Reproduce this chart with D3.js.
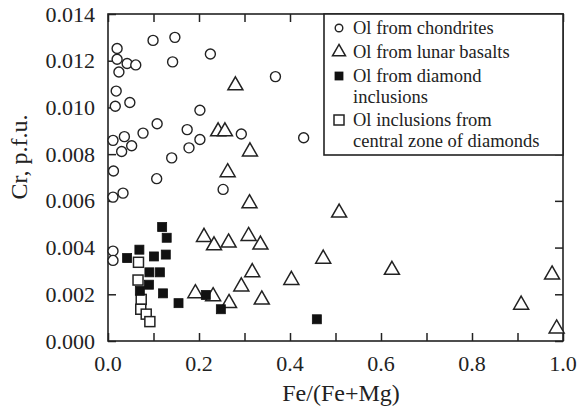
<!DOCTYPE html>
<html>
<head>
<meta charset="utf-8">
<script src="https://cdn.jsdelivr.net/npm/d3@7"></script>
<style>
  html, body { margin: 0; padding: 0; background: #fff; }
  svg { display: block; }
  text { font-family: "Liberation Serif", "Times New Roman", serif; fill: #222; }
</style>
</head>
<body>
<svg id="chart" width="578" height="408"></svg>
<script>
// Olivine: Cr (p.f.u.) versus Fe/(Fe+Mg)
const chondrites = [
  [0.020, 0.01252], [0.020, 0.01206], [0.042, 0.01188], [0.061, 0.01182],
  [0.024, 0.01152], [0.099, 0.01287], [0.147, 0.01300], [0.142, 0.01195],
  [0.225, 0.01229], [0.368, 0.01132], [0.018, 0.01070], [0.016, 0.01005],
  [0.048, 0.01021], [0.202, 0.00988], [0.108, 0.00930], [0.174, 0.00905],
  [0.077, 0.00890], [0.036, 0.00875], [0.011, 0.00859], [0.052, 0.00836],
  [0.030, 0.00811], [0.178, 0.00827], [0.202, 0.00863], [0.293, 0.00886],
  [0.430, 0.00870], [0.140, 0.00784], [0.012, 0.00728], [0.107, 0.00695],
  [0.011, 0.00616], [0.033, 0.00633], [0.253, 0.00649], [0.011, 0.00385],
  [0.011, 0.00345]
];
const lunarBasalts = [
  [0.280, 0.01094], [0.242, 0.00897], [0.257, 0.00897], [0.312, 0.00811],
  [0.263, 0.00722], [0.311, 0.00589], [0.508, 0.00549], [0.211, 0.00445],
  [0.233, 0.00409], [0.265, 0.00421], [0.309, 0.00449], [0.335, 0.00412],
  [0.473, 0.00352], [0.317, 0.00294], [0.624, 0.00304], [0.976, 0.00284],
  [0.403, 0.00261], [0.293, 0.00233], [0.192, 0.00204], [0.231, 0.00191],
  [0.266, 0.00162], [0.338, 0.00177], [0.908, 0.00155], [0.986, 0.00053]
];
const diamondInclusions = [
  [0.119, 0.00488], [0.129, 0.00442], [0.127, 0.00370], [0.069, 0.00391],
  [0.042, 0.00355], [0.101, 0.00362], [0.091, 0.00294], [0.114, 0.00294],
  [0.090, 0.00241], [0.070, 0.00215], [0.121, 0.00204], [0.155, 0.00162],
  [0.215, 0.00197], [0.248, 0.00136], [0.459, 0.00093]
];
const centralZone = [
  [0.067, 0.00337], [0.066, 0.00261], [0.073, 0.00178], [0.072, 0.00136],
  [0.084, 0.00115], [0.092, 0.00083]
];

const xTicks = [0, 0.1, 0.2, 0.3, 0.4, 0.5, 0.6, 0.7, 0.8, 0.9, 1.0];
const xTickLabels = ["0.0", "0.2", "0.4", "0.6", "0.8", "1.0"];
const yTicks = [0, 0.002, 0.004, 0.006, 0.008, 0.010, 0.012, 0.014];
const yTickLabels = ["0.000", "0.002", "0.004", "0.006", "0.008", "0.010", "0.012", "0.014"];

const legendLabels = [
  ["Ol from chondrites"],
  ["Ol from lunar basalts"],
  ["Ol from diamond", "inclusions"],
  ["Ol inclusions from", "central zone of diamonds"]
];

const svg = d3.select("#chart");
const ink = "#222";
const plot = { left: 108, right: 563, top: 14, bottom: 341 };

const x = d3.scaleLinear().domain([0, 1]).range([plot.left, plot.right]);
const y = d3.scaleLinear().domain([0, 0.014]).range([plot.bottom, plot.top]);

const tickLen = 8;

// Inward ticks on all four sides
const axes = [
  { axis: d3.axisBottom(x).tickValues(xTicks), tr: `translate(0,${plot.bottom})` },
  { axis: d3.axisTop(x).tickValues(xTicks), tr: `translate(0,${plot.top})` },
  { axis: d3.axisLeft(y).tickValues(yTicks), tr: `translate(${plot.left},0)` },
  { axis: d3.axisRight(y).tickValues(yTicks), tr: `translate(${plot.right},0)` }
];
axes.forEach(a => {
  const g = svg.append("g").attr("transform", a.tr)
    .call(a.axis.tickSizeInner(-tickLen).tickSizeOuter(0).tickFormat(""));
  g.select(".domain").remove();
  g.selectAll(".tick line").attr("stroke", ink).attr("stroke-width", 1.5);
});

// Frame
svg.append("rect")
  .attr("x", plot.left).attr("y", plot.top)
  .attr("width", plot.right - plot.left).attr("height", plot.bottom - plot.top)
  .attr("fill", "none").attr("stroke", ink).attr("stroke-width", 1.6);

// Tick labels
svg.append("g").selectAll("text").data(xTickLabels).join("text")
  .attr("x", d => x(+d)).attr("y", plot.bottom + 30)
  .attr("text-anchor", "middle").attr("font-size", 22)
  .text(d => d);
svg.append("g").selectAll("text").data(yTickLabels).join("text")
  .attr("x", plot.left - 13).attr("y", d => y(+d) + 7.5)
  .attr("text-anchor", "end").attr("font-size", 22)
  .text(d => d);

// Axis titles
svg.append("text")
  .attr("x", 341).attr("y", 401)
  .attr("text-anchor", "middle").attr("font-size", 24)
  .text("Fe/(Fe+Mg)");
svg.append("text")
  .attr("transform", "translate(27,157) rotate(-90)")
  .attr("text-anchor", "middle").attr("font-size", 24)
  .text("Cr, p.f.u.");

// Marker shapes
const tri = s => `M0,${-s * 0.58}L${s / 2},${s * 0.29}L${-s / 2},${s * 0.29}Z`;

function drawCircle(g, cx, cy, r = 5) {
  g.append("circle").attr("cx", cx).attr("cy", cy).attr("r", r)
    .attr("fill", "#fff").attr("stroke", ink).attr("stroke-width", 1.4);
}
function drawTriangle(g, cx, cy, s = 15) {
  g.append("path").attr("d", tri(s)).attr("transform", `translate(${cx},${cy})`)
    .attr("fill", "#fff").attr("stroke", ink).attr("stroke-width", 1.5);
}
function drawFilled(g, cx, cy, s = 9) {
  g.append("rect").attr("x", cx - s / 2).attr("y", cy - s / 2).attr("width", s).attr("height", s)
    .attr("fill", "#111").attr("stroke", "#111").attr("stroke-width", 0.8);
}
function drawOpen(g, cx, cy, s = 10) {
  g.append("rect").attr("x", cx - s / 2).attr("y", cy - s / 2).attr("width", s).attr("height", s)
    .attr("fill", "#fff").attr("stroke", ink).attr("stroke-width", 1.5);
}

const marks = svg.append("g");
chondrites.forEach(d => drawCircle(marks, x(d[0]), y(d[1])));
lunarBasalts.forEach(d => drawTriangle(marks, x(d[0]), y(d[1])));
centralZone.forEach(d => drawOpen(marks, x(d[0]), y(d[1])));
diamondInclusions.forEach(d => drawFilled(marks, x(d[0]), y(d[1])));

// Legend
const leg = svg.append("g");
const lg = { left: 324, top: plot.top, right: plot.right, bottom: 155 };
leg.append("rect")
  .attr("x", lg.left).attr("y", lg.top)
  .attr("width", lg.right - lg.left).attr("height", lg.bottom - lg.top)
  .attr("fill", "#fff").attr("stroke", ink).attr("stroke-width", 1.6);

const rowY = [28, 52, 76, 120];
const symX = 339, textX = 353, lineH = 21;
const drawers = [
  (g, cx, cy) => drawCircle(g, cx, cy, 3.8),
  (g, cx, cy) => drawTriangle(g, cx, cy, 13),
  (g, cx, cy) => drawFilled(g, cx, cy, 8),
  (g, cx, cy) => drawOpen(g, cx, cy, 10)
];
legendLabels.forEach((lines, i) => {
  drawers[i](leg, symX, rowY[i]);
  lines.forEach((ln, j) => {
    leg.append("text")
      .attr("x", textX).attr("y", rowY[i] + 6 + j * lineH)
      .attr("font-size", 18.5)
      .text(ln);
  });
});
</script>
</body>
</html>
